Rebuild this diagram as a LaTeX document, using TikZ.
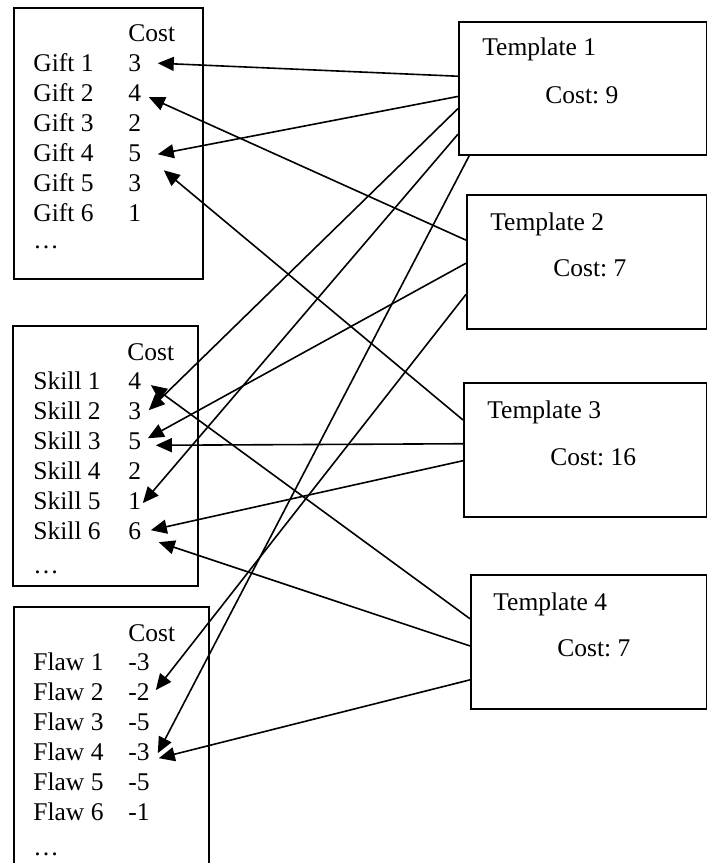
\documentclass[tikz,border=0pt]{standalone}
\usepackage{fontspec}
\setmainfont{Liberation Serif}
\frenchspacing
\usetikzlibrary{arrows.meta, calc}
\tikzset{
  x=0.5pt, y=-0.5pt,
  >={Triangle[length=8pt,width=7pt]},
  every node/.style={font=\fontsize{12.75}{15}\selectfont},
  box/.style={draw, line width=0.85pt, anchor=north west, inner sep=0pt},
  item/.style={anchor=base west, inner sep=0pt},
  val/.style={item, text width=14.5pt},
  link/.style={->, line width=0.8pt},
}

\begin{document}
\begin{tikzpicture}
      \useasboundingbox (0,0) rectangle (707,863);

      % lists on the left
      \node[box, minimum width=94.5pt, minimum height=135.5pt] (gifts) at (13,7) {};
      \node[box, minimum width=92.5pt, minimum height=130pt] (skills) at (12,325) {};
      \draw[line width=0.85pt] (14,863) -- (14,607) -- (209,607) -- (209,863);

      \node[item] (gcost) at (128,41.5) {Cost};
      \foreach \i/\v in {1/3,2/4,3/2,4/5,5/3,6/1} {
        \node[item] (gn\i) at (33,{71.5+30*(\i-1)}) {Gift \i};
        \node[val] (g\i) at (128,{71.5+30*(\i-1)}) {\v};
      }
      \node[item] (gdots) at (33,248) {\dots};

      \node[item] (scost) at (127,360.5) {Cost};
      \foreach \i/\v in {1/4,2/3,3/5,4/2,5/1,6/6} {
        \node[item] (sn\i) at (33,{389.5+30*(\i-1)}) {Skill \i};
        \node[val] (s\i) at (128,{389.5+30*(\i-1)}) {\v};
      }
      \node[item] (sdots) at (33,573) {\dots};

      \node[item] (fcost) at (128,641.5) {Cost};
      \foreach \i/\v in {1/-3,2/-2,3/-5,4/-3,5/-5,6/-1} {
        \node[item] (fn\i) at (33,{670.5+30*(\i-1)}) {Flaw \i};
        \node[val] (f\i) at (128,{670.5+30*(\i-1)}) {\v};
      }
      \node[item] (fdots) at (33,855) {\dots};

      % templates on the right
      \node[box, minimum width=124pt, minimum height=66.5pt] (t1) at (458,21) {};
      \node[box, minimum width=120pt, minimum height=67pt] (t2) at (466,194) {};
      \node[box, minimum width=121.5pt, minimum height=67pt] (t3) at (463,382) {};
      \node[box, minimum width=118pt, minimum height=67pt] (t4) at (470,574) {};

      \node[item] (t1name) at (482,55.5) {Template 1};
      \node[item] (t1cost) at (545,103.5) {Cost: 9};
      \node[item] (t2name) at (490,230.5) {Template 2};
      \node[item] (t2cost) at (553,276.5) {Cost: 7};
      \node[item] (t3name) at (487,418.5) {Template 3};
      \node[item] (t3cost) at (550,465.5) {Cost: 16};
      \node[item] (t4name) at (493,610.5) {Template 4};
      \node[item] (t4cost) at (557,656.5) {Cost: 7};

      % template 1
      \draw[link] ($(t1.north west)!0.41!(t1.south west)$) -- (g1.east);
      \draw[link] ($(t1.north west)!0.56!(t1.south west)$) -- ([yshift=-0.5pt]g4.east);
      \draw[link] ($(t1.north west)!0.65!(t1.south west)$) -- ([xshift=-4.5pt,yshift=0.5pt]s2.east);
      \draw[link] ($(t1.north west)!0.84!(t1.south west)$) -- ([xshift=-7.5pt,yshift=-1pt]s5.east);
      \draw[link] ($(t1.south west)!0.045!(t1.south east)$) -- ([yshift=-0.5pt]f4.east);
      % template 2
      \draw[link] ($(t2.north west)!0.34!(t2.south west)$) -- ([xshift=-4.5pt,yshift=-2pt]g2.east);
      \draw[link] ($(t2.north west)!0.51!(t2.south west)$) -- ([xshift=-5pt,yshift=1.5pt]s3.east);
      \draw[link] ($(t2.north west)!0.74!(t2.south west)$) -- ([xshift=-1pt,yshift=1pt]f2.east);
      % template 3
      \draw[link] ($(t3.north west)!0.28!(t3.south west)$) -- ([xshift=3pt,yshift=-8.5pt]g4.east);
      \draw[link] ($(t3.north west)!0.455!(t3.south west)$) -- ([xshift=-1pt,yshift=-2pt]s3.east);
      \draw[link] ($(t3.north west)!0.58!(t3.south west)$) -- ([xshift=-3.5pt,yshift=0.5pt]s6.east);
      % template 4
      \draw[link] ($(t4.north west)!0.33!(t4.south west)$) -- ([xshift=-3.5pt,yshift=-2pt]s1.east);
      \draw[link] ($(t4.north west)!0.53!(t4.south west)$) -- ([xshift=0.5pt,yshift=-5.5pt]s6.east);
      \draw[link] ($(t4.north west)!0.78!(t4.south west)$) -- ([xshift=0.5pt,yshift=-3pt]f4.east);
    \end{tikzpicture}
\end{document}
